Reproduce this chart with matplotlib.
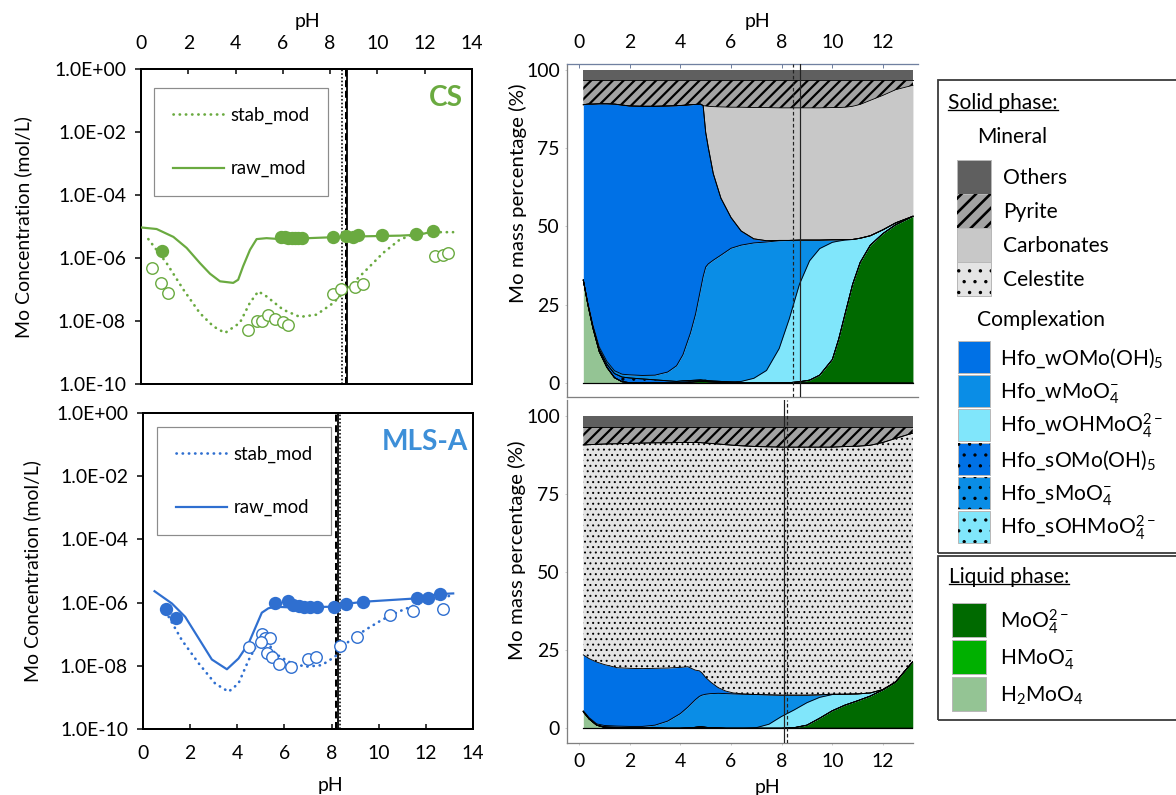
import numpy as np
import matplotlib
matplotlib.use("Agg")
import matplotlib.pyplot as plt
from matplotlib.lines import Line2D
from matplotlib.patches import Rectangle

# ---------------- data: left panels (log10 of Mo concentration, mol/L) ----------------
cs_raw_ph = [0.0, 0.66, 1.37, 1.93, 2.49, 2.92, 3.34, 3.9, 4.11, 4.32, 4.61, 4.89, 5.31, 5.87, 6.72, 8.13, 9.54, 10.95, 11.79, 12.21, 12.42]
cs_raw_log = [-5.03, -5.08, -5.33, -5.68, -6.16, -6.5, -6.74, -6.79, -6.69, -6.26, -5.74, -5.40, -5.37, -5.40, -5.38, -5.34, -5.31, -5.29, -5.26, -5.18, -5.12]
cs_stab_ph = [0.31, 1.08, 1.79, 2.49, 3.06, 3.55, 4.18, 4.6, 4.96, 5.31, 6.01, 6.72, 7.42, 8.13, 8.83, 9.54, 10.24, 10.94, 11.65, 12.35, 13.2]
cs_stab_log = [-5.40, -6.16, -7.0, -7.75, -8.17, -8.38, -8.06, -7.43, -7.06, -7.22, -7.64, -7.87, -7.8, -7.43, -6.9, -6.37, -5.84, -5.42, -5.21, -5.18, -5.18]
cs_raw_obs_ph = [0.87, 5.94, 6.08, 6.22, 6.37, 6.51, 6.65, 6.79, 8.13, 8.69, 8.97, 9.18, 10.21, 11.65, 12.35]
cs_raw_obs_log = [-5.79, -5.33, -5.33, -5.35, -5.36, -5.37, -5.37, -5.36, -5.33, -5.31, -5.33, -5.26, -5.26, -5.23, -5.15]
cs_stab_obs_ph = [0.45, 0.85, 1.15, 4.54, 4.89, 5.1, 5.38, 5.66, 6.01, 6.23, 8.1, 8.48, 9.04, 9.37, 12.42, 12.77, 12.99]
cs_stab_obs_log = [-6.32, -6.79, -7.11, -8.28, -8.01, -8.01, -7.8, -7.94, -8.04, -8.12, -7.13, -6.98, -6.92, -6.81, -5.95, -5.89, -5.84]
cs_vlines = [(8.52, 'dotted'), (8.68, 'dashed'), (8.73, 'solid')]

mls_raw_ph = [0.49, 1.23, 1.79, 2.36, 2.92, 3.56, 4.05, 4.48, 5.04, 5.32, 5.6, 6.17, 8.15, 8.71, 9.42, 11.54, 12.53, 13.16]
mls_raw_log = [-5.64, -6.03, -6.45, -7.13, -7.8, -8.11, -7.77, -7.29, -6.32, -6.18, -6.13, -6.15, -6.13, -6.03, -5.97, -5.87, -5.73, -5.71]
mls_stab_ph = [1.09, 1.65, 2.36, 3.06, 3.63, 4.05, 4.48, 4.9, 5.18, 5.6, 6.17, 6.88, 7.58, 8.15, 8.71, 9.42, 10.13, 10.83, 11.54, 12.25, 13.16]
mls_stab_log = [-6.45, -7.19, -7.92, -8.56, -8.82, -8.56, -7.82, -7.24, -7.13, -7.61, -7.87, -8.03, -7.98, -7.71, -7.24, -6.87, -6.55, -6.29, -6.08, -5.92, -5.76]
mls_raw_obs_ph = [0.99, 1.4, 5.58, 6.14, 6.38, 6.6, 6.81, 7.09, 7.37, 8.12, 8.62, 9.35, 11.61, 12.1, 12.6]
mls_raw_obs_log = [-6.21, -6.5, -6.0, -5.94, -6.08, -6.11, -6.13, -6.13, -6.15, -6.13, -6.03, -5.97, -5.87, -5.84, -5.73]
mls_stab_obs_ph = [4.48, 5.04, 5.18, 5.4, 5.0, 5.25, 5.47, 5.75, 6.27, 7.02, 7.34, 8.36, 9.07, 10.48, 11.47, 12.74]
mls_stab_obs_log = [-7.4, -6.98, -7.13, -7.13, -7.24, -7.59, -7.71, -7.95, -8.03, -7.77, -7.71, -7.38, -7.08, -6.4, -6.26, -6.19]
mls_vlines = [(8.2, 'dashed'), (8.27, 'solid'), (8.34, 'dotted')]

ytick_vals = [1e0, 1e-2, 1e-4, 1e-6, 1e-8, 1e-10]
ytick_labels = ['1.0E+00', '1.0E-02', '1.0E-04', '1.0E-06', '1.0E-08', '1.0E-10']

# ---------------- data: right panels (Mo mass percentage, %) ----------------
ph_cs = [0.17, 0.35, 0.55, 0.8, 1.1, 1.4, 1.7, 2.0, 2.5, 3.0, 3.5, 3.85, 4.1, 4.4, 4.6, 4.8, 4.9, 5.0, 5.1, 5.3,
         5.6, 6.0, 6.4, 6.9, 7.4, 7.9, 8.3, 8.7, 9.1, 9.5, 10.0, 10.25, 10.5, 10.8, 11.1, 11.5, 12.0, 12.5, 13.18]
cs_H2MoO4 = [32.8, 25.0, 17.5, 10.0, 5.0, 1.7, 0.4, 0.1] + [0] * 31
cs_HMoO4 = [0] * 13 + [0.2, 0.4, 0.5, 0.5, 0.5, 0.4, 0.3, 0.2, 0.1] + [0] * 17
cs_MoO4 = [0] * 26 + [0.1, 0.4, 0.9, 2.5, 7.5, 14, 22, 31.5, 38.5, 44, 47.7, 50.5, 53.2]
cs_sOHMoO4 = [0] * 39
cs_sMoO4 = [0] * 12 + [0.3] * 9 + [0.2] + [0] * 17
cs_sOMo = [0, 0.2, 0.4, 0.7, 1.0, 1.3, 1.5, 1.5, 1.3, 1.0, 0.7, 0.5, 0.4, 0.3, 0.2, 0.2, 0.1, 0.1] + [0] * 21
cs_wOHMoO4 = [0] * 21 + [0.1, 0.5, 1.5, 4, 11, 20.4, 31.1, 38.1, 40.4, 37.4, 31.3, 23.6, 14.3, 7.7, 3.0, 1.2, 0.6, 0]
cs_wMoO4 = [0.2, 0.4, 0.6, 0.8, 0.9, 0.9, 0.9, 1.0, 1.1, 1.5, 2.8, 5.0, 8.3, 15.2, 21.1, 29.0, 33.1, 36.1, 37.3, 38.6,
            40.3, 42.6, 43.5, 43.2, 41.0, 34.4, 25.0, 14.1, 6.6, 2.7, 0.8, 0.4, 0.2] + [0] * 6
cs_wOMo = [55.8, 63.4, 70.5, 77.6, 82.2, 85.1, 85.9, 85.8, 85.9, 85.8, 84.9, 83.0, 79.6, 72.8, 66.9, 59.0, 54.5, 43.0,
           37.3, 27.6, 18.2, 9.8, 4.5, 1.3, 0.4, 0.1] + [0] * 13
cs_celestite = [0] * 39
cs_carbonates = [0] * 17 + [8.4, 13.0, 21.4, 29.1, 35.2, 39.5, 41.9, 42.5, 42.3, 42.3, 42.2, 42.2, 42.2, 42.2, 42.2,
                            42.2, 42.5, 42.7, 43.2, 42.9, 42.5, 41.8]
cs_pyrite = [7.8, 7.6, 7.6, 7.5, 7.5, 7.6, 7.9, 8.2, 8.3, 8.3, 8.2, 8.1, 8.0, 7.8, 7.7, 7.6, 8.1, 8.2, 8.3, 8.4,
             8.5, 8.6, 8.6, 8.7, 8.7, 8.8, 8.8, 8.8, 8.8, 8.8, 8.7, 8.7, 8.6, 8.3, 7.7, 6.4, 4.8, 3.0, 1.6]
cs_others = [3.4] * 39
cs_pct_vlines = [(8.46, 'dashed'), (8.71, 'solid')]

ph_mls = [0.17, 0.4, 0.7, 1.0, 1.5, 2.0, 2.5, 3.0, 3.5, 4.0, 4.3, 4.6, 4.75, 4.85, 5.0, 5.2, 5.5, 5.8, 6.1, 6.5,
          7.0, 7.5, 8.0, 8.5, 9.0, 9.5, 10.0, 10.5, 11.0, 11.5, 12.0, 12.5, 13.18]
mls_H2MoO4 = [5.3, 3.0, 1.0, 0.3, 0.1] + [0] * 28
mls_HMoO4 = [0] * 10 + [0.1, 0.3, 0.4, 0.4, 0.3, 0.2, 0.1] + [0] * 16
mls_MoO4 = [0] * 23 + [0.2, 1.0, 3.2, 5.6, 7.4, 8.8, 10.3, 12.3, 14.8, 21.3]
mls_sOHMoO4 = [0] * 33
mls_sMoO4 = [0] * 33
mls_sOMo = [0, 0, 0, 0.2, 0.2, 0.2, 0.2, 0.2] + [0] * 25
mls_wOHMoO4 = [0] * 20 + [0.2, 1.3, 3.8, 5.7, 7.2, 6.7, 5.2, 3.5, 2.2, 1.0, 0.1, 0, 0]
mls_wMoO4 = [0.3, 0.4, 0.4, 0.4, 0.4, 0.4, 0.4, 0.8, 2.3, 4.7, 6.7, 8.9, 9.8, 10.2, 10.6, 10.9, 11.1, 11.1, 11.0, 10.9,
             10.6, 9.4, 6.8, 4.7, 2.4, 0.8, 0.1] + [0] * 6
mls_wOMo = [17.9, 18.9, 19.8, 19.5, 18.7, 18.6, 18.5, 18.2, 17.0, 14.8, 12.9, 9.4, 8.2, 7.2, 5.4, 3.7, 1.8, 0.8, 0.3, 0.1] + [0] * 13
mls_celestite = [67.2, 68.5, 69.7, 70.6, 71.7, 72.0, 72.2, 72.2, 72.1, 72.0, 71.8, 72.9, 73.1, 73.6, 75.0, 76.4, 78.0,
                 78.9, 79.3, 79.4, 79.4, 79.4, 79.4, 79.4, 79.4, 79.3, 79.1, 79.3, 79.3, 79.3, 79.1, 78.0, 73.2]
mls_carbonates = [0] * 33
mls_pyrite = [5.9, 5.8, 5.7, 5.6, 5.5, 5.4, 5.3, 5.2, 5.2, 5.1, 5.1, 5.1, 5.1, 5.2, 5.3, 5.4, 5.6, 5.8, 6.0, 6.2,
              6.4, 6.5, 6.6, 6.6, 6.6, 6.6, 6.6, 6.4, 6.3, 6.0, 5.1, 3.8, 2.1]
mls_others = [3.4] * 33
mls_pct_vlines = [(8.09, 'solid'), (8.2, 'dashed')]

# ---------------- styles ----------------
DPI = 130
W, H = 1176, 795


def pt(px):
    return px * 72.0 / DPI


GREEN = '#6aaa40'
BLUE = '#2f6fd0'
BLUE_TXT = '#3d8fd8'

C_H2 = '#94c494'
C_HM = '#00b000'
C_MO = '#006a00'
C_WOH = '#80e6fb'
C_WM = '#0a8de6'
C_WO = '#0071e6'
C_CEL = '#e4e4e4'
C_CARB = '#c8c8c8'
C_PYR = '#a3a3a3'
C_OTH = '#5f5f5f'

layer_colors = [C_H2, C_HM, C_MO, C_WOH, C_WM, C_WO, C_WOH, C_WM, C_WO, C_CEL, C_CARB, C_PYR, C_OTH]
layer_hatches = [None, None, None, '..', '..', '..', None, None, None, '....', None, '////', None]
layer_hatch_lw = [0, 0, 0, 1.0, 1.0, 1.0, 0, 0, 0, 1.0, 0, 2.2, 0]

plt.rcParams['font.family'] = ['Lato', 'DejaVu Sans']
plt.rcParams['mathtext.fontset'] = 'custom'
plt.rcParams['mathtext.rm'] = 'Lato'
plt.rcParams['mathtext.it'] = 'Lato:italic'
plt.rcParams['mathtext.bf'] = 'Lato:bold'
plt.rcParams['hatch.color'] = 'black'
plt.rcParams['hatch.linewidth'] = pt(1.3)

FS_TICK = pt(19.4)
FS_LAB = pt(19.4)
FS_LEG = pt(18.6)
FS_RLEG = pt(21)

fig = plt.figure(figsize=(W / DPI, H / DPI), dpi=DPI)


def add_ax(l, r, t, b):
    return fig.add_axes([l / W, 1 - b / H, (r - l) / W, (b - t) / H])


def ftext(x, y, s, **kw):
    return fig.text(x / W, 1 - y / H, s, **kw)


def set_hlw(artist, px):
    if px and hasattr(artist, 'set_hatch_linewidth'):
        try:
            artist.set_hatch_linewidth(pt(px))
        except Exception:
            pass


LS = {'dotted': (0, (1, 1.3)), 'dashed': (0, (3.5, 1.8)), 'solid': '-'}
LW_V = {'dotted': pt(1.6), 'dashed': pt(2.0), 'solid': pt(1.8)}
DOT = (0, (0.1, 2.2))


def conc_panel(ax, color, raw_ph, raw_log, stab_ph, stab_log, ro_ph, ro_log, so_ph, so_log, vlines, top, leg_anchor):
    ax.set_yscale('log')
    ax.set_xlim(0, 14)
    ax.set_ylim(1e-10, 1)
    ax.plot(stab_ph, 10 ** np.array(stab_log), color=color, lw=pt(2.7), ls=DOT,
            dash_capstyle='round', zorder=3)
    ax.plot(raw_ph, 10 ** np.array(raw_log), color=color, lw=pt(2.2), zorder=3)
    ax.plot(ro_ph, 10 ** np.array(ro_log), 'o', color=color, ms=pt(11.5), mec=color, zorder=4)
    ax.plot(so_ph, 10 ** np.array(so_log), 'o', mfc='white', mec=color, mew=pt(1.4), ms=pt(11.5), zorder=4)
    for x, st in vlines:
        ax.axvline(x, color='black', ls=LS[st], lw=LW_V[st], zorder=2)
    ax.set_yticks(ytick_vals)
    ax.set_yticklabels(ytick_labels)
    ax.yaxis.set_minor_locator(matplotlib.ticker.NullLocator())
    ax.tick_params(axis='y', direction='out', length=pt(6), width=pt(1.5), pad=pt(9), labelsize=FS_TICK)
    ax.set_xticks(range(0, 15, 2))
    if top:
        ax.xaxis.tick_top()
        ax.tick_params(axis='x', direction='in', length=pt(5), width=pt(1.5), pad=pt(17), labelsize=FS_TICK)
    else:
        ax.tick_params(axis='x', direction='in', length=pt(5), width=pt(1.5), pad=pt(16), labelsize=FS_TICK)
    for s in ax.spines.values():
        s.set_linewidth(pt(2))
        s.set_color('black')
    h1 = Line2D([], [], color=color, lw=pt(2.7), ls=DOT, dash_capstyle='round')
    h2 = Line2D([], [], color=color, lw=pt(2.2))
    leg = ax.legend([h1, h2], ['stab_mod', 'raw_mod'], loc='upper left', bbox_to_anchor=leg_anchor,
                    borderaxespad=0, frameon=True, fancybox=False, framealpha=1, edgecolor='#8c8c8c',
                    borderpad=1.0, labelspacing=1.95, handlelength=2.74, handletextpad=0.38, fontsize=FS_LEG)
    leg.get_frame().set_linewidth(pt(1.2))


ax1 = add_ax(141, 472, 69, 384)
conc_panel(ax1, GREEN, cs_raw_ph, cs_raw_log, cs_stab_ph, cs_stab_log, cs_raw_obs_ph, cs_raw_obs_log,
           cs_stab_obs_ph, cs_stab_obs_log, cs_vlines, True, ((154 - 141) / 331, (384 - 88) / 315))
ax2 = add_ax(143, 473, 413, 729)
conc_panel(ax2, BLUE, mls_raw_ph, mls_raw_log, mls_stab_ph, mls_stab_log, mls_raw_obs_ph, mls_raw_obs_log,
           mls_stab_obs_ph, mls_stab_obs_log, mls_vlines, False, ((157 - 143) / 330, (729 - 427) / 316))

ftext(463, 98, 'CS', ha='right', va='center', fontsize=pt(28), fontweight='bold', color=GREEN)
ftext(468, 442, 'MLS-A', ha='right', va='center', fontsize=pt(28), fontweight='bold', color=BLUE_TXT)
ftext(23, 227, 'Mo Concentration (mol/L)', rotation=90, ha='center', va='center', fontsize=FS_LAB)
ftext(32, 571, 'Mo Concentration (mol/L)', rotation=90, ha='center', va='center', fontsize=FS_LAB)
ftext(307, 22, 'pH', ha='center', va='center', fontsize=FS_TICK)
ftext(330, 785, 'pH', ha='center', va='center', fontsize=FS_TICK)


def pct_panel(ax, ph, layers, vlines):
    x = np.array(ph, dtype=float)
    cum = np.zeros_like(x)
    tops = []
    for vals, fc, hatch, hlw in zip(layers, layer_colors, layer_hatches, layer_hatch_lw):
        lo = cum.copy()
        cum = cum + np.array(vals, dtype=float)
        coll = ax.fill_between(x, lo, cum, facecolor=fc, edgecolor='black', linewidth=0, hatch=hatch, zorder=1)
        set_hlw(coll, hlw)
        tops.append(cum.copy())
    ax.plot(x, np.zeros_like(x), color='black', lw=pt(1.2), zorder=2)
    for t in tops[:-1]:
        ax.plot(x, t, color='black', lw=pt(0.9), zorder=2)
    for xv, st in vlines:
        ax.axvline(xv, color='#222222', ls=LS[st] if st != 'dashed' else (0, (3, 2)), lw=pt(1.2), zorder=3)
    ax.set_yticks([0, 25, 50, 75, 100])
    ax.set_xticks(range(0, 13, 2))
    ax.tick_params(axis='y', direction='out', length=pt(2), width=pt(0.8), color='#c0c0c0', pad=pt(5),
                   labelsize=FS_TICK)
    ax.spines['right'].set_visible(False)
    for s in ['left', 'bottom', 'top']:
        ax.spines[s].set_color('#808080')
        ax.spines[s].set_linewidth(pt(1.3))


ax3 = add_ax(567, 918, 64, 397)
ax3.set_xlim(-0.474, 13.38)
ax3.set_ylim(-4.47, 101.8)
pct_panel(ax3, ph_cs, [cs_H2MoO4, cs_HMoO4, cs_MoO4, cs_sOHMoO4, cs_sMoO4, cs_sOMo, cs_wOHMoO4, cs_wMoO4,
                       cs_wOMo, cs_celestite, cs_carbonates, cs_pyrite, cs_others], cs_pct_vlines)
ax3.xaxis.tick_top()
ax3.tick_params(axis='x', direction='in', length=pt(4), width=pt(1), color='#7080a0', pad=pt(13),
                labelsize=FS_TICK)
ax3.spines['top'].set_color('#7080a0')

ax4 = add_ax(567, 913, 400, 743)
ax4.set_xlim(-0.474, 13.19)
ax4.set_ylim(-4.71, 105.1)
pct_panel(ax4, ph_mls, [mls_H2MoO4, mls_HMoO4, mls_MoO4, mls_sOHMoO4, mls_sMoO4, mls_sOMo, mls_wOHMoO4,
                        mls_wMoO4, mls_wOMo, mls_celestite, mls_carbonates, mls_pyrite, mls_others], mls_pct_vlines)
ax4.spines['top'].set_visible(False)
ax4.tick_params(axis='x', direction='out', length=pt(2), width=pt(0.8), color='#c0c0c0', pad=pt(8),
                labelsize=FS_TICK)

ftext(518, 193, 'Mo mass percentage (%)', rotation=90, ha='center', va='center', fontsize=pt(20.5))
ftext(517, 550, 'Mo mass percentage (%)', rotation=90, ha='center', va='center', fontsize=pt(20.5))
ftext(757, 22, 'pH', ha='center', va='center', fontsize=FS_TICK)
ftext(767, 787, 'pH', ha='center', va='center', fontsize=FS_TICK)

# ---------------- right legend ----------------
def frect(x, y, w, h, **kw):
    r = Rectangle((x / W, 1 - (y + h) / H), w / W, h / H, transform=fig.transFigure, **kw)
    fig.add_artist(r)
    return r


def swatch(x, y, w, h, fc, hatch=None, hlw=None):
    frect(x, y, w, h, facecolor=fc, edgecolor='#b8b8b8', lw=pt(1))
    if hatch:
        r = frect(x, y, w, h, facecolor='none', edgecolor='black', lw=0, hatch=hatch)
        set_hlw(r, hlw)


frect(938, 80, 260, 473, fill=False, edgecolor='#3a3a3a', lw=pt(1.8))
frect(938, 556, 260, 164, fill=False, edgecolor='#3a3a3a', lw=pt(1.8))

mineral_labels = ['Others', 'Pyrite', 'Carbonates', 'Celestite']
mineral_colors = [C_OTH, C_PYR, C_CARB, C_CEL]
mineral_hatches = [None, '///', None, '..']
mineral_hatch_lw = [None, 2.6, None, 1.2]
complex_labels = ['Hfo_wOMo(OH)$\\mathregular{_5}$', 'Hfo_wMoO$\\mathregular{_4^{-}}$',
                  'Hfo_wOHMoO$\\mathregular{_4^{2-}}$', 'Hfo_sOMo(OH)$\\mathregular{_5}$',
                  'Hfo_sMoO$\\mathregular{_4^{-}}$', 'Hfo_sOHMoO$\\mathregular{_4^{2-}}$']
complex_colors = [C_WO, C_WM, C_WOH, C_WO, C_WM, C_WOH]
complex_hatches = [None, None, None, '..', '..', '..']
liquid_labels = ['MoO$\\mathregular{_4^{2-}}$', 'HMoO$\\mathregular{_4^{-}}$', 'H$\\mathregular{_2}$MoO$\\mathregular{_4}$']
liquid_colors = [C_MO, C_HM, C_H2]

t_solid = ftext(948, 103, 'Solid phase:', ha='left', va='center', fontsize=FS_RLEG)
ftext(977, 137, 'Mineral', ha='left', va='center', fontsize=FS_RLEG)
for i, (lab, c, h, hl) in enumerate(zip(mineral_labels, mineral_colors, mineral_hatches, mineral_hatch_lw)):
    y0 = 160 + 34 * i
    swatch(957, y0, 34, 34, c, h, hl)
    ftext(1003, y0 + 17 + 7.5, lab, ha='left', va='baseline', fontsize=FS_RLEG)
ftext(977, 320, 'Complexation', ha='left', va='center', fontsize=FS_RLEG)
for i, (lab, c, h) in enumerate(zip(complex_labels, complex_colors, complex_hatches)):
    y0 = 341 + 34 * i
    swatch(958, y0, 32, 32, c, h, 1.1)
    ftext(1000, y0 + 16 + 7.5, lab, ha='left', va='baseline', fontsize=FS_RLEG)
t_liq = ftext(949, 577, 'Liquid phase:', ha='left', va='center', fontsize=FS_RLEG)
for i, (lab, c) in enumerate(zip(liquid_labels, liquid_colors)):
    y0 = 603 + 37 * i
    swatch(952, y0, 34, 34, c)
    ftext(1000, y0 + 17 + 7.5, lab, ha='left', va='baseline', fontsize=FS_RLEG)

fig.canvas.draw()
rend = fig.canvas.get_renderer()
for t in (t_solid, t_liq):
    bb = t.get_window_extent(rend)
    yline = bb.y0 + 3
    fig.add_artist(Line2D([bb.x0 / W, bb.x1 / W], [yline / H, yline / H], transform=fig.transFigure,
                          color='black', lw=pt(1.3)))

fig.savefig('out.png', dpi=DPI)
